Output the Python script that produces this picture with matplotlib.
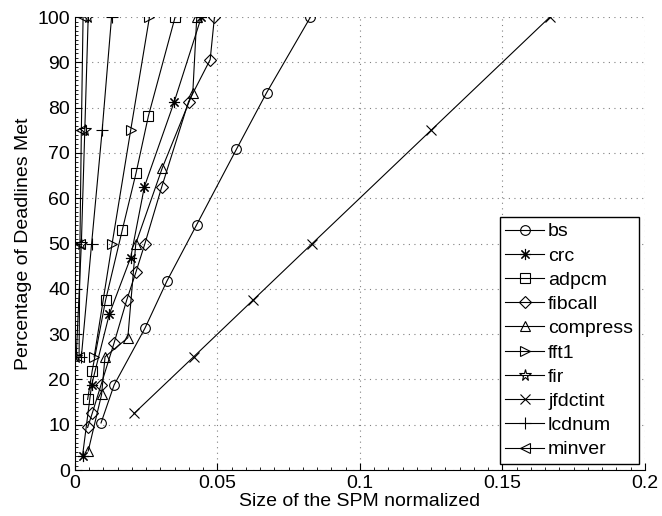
"""Percentage of deadlines met vs. normalized SPM size, one line per benchmark."""

import matplotlib
matplotlib.use("Agg")
import matplotlib.pyplot as plt
from matplotlib.ticker import AutoMinorLocator, FixedLocator

plt.rcParams["font.family"] = ["Liberation Sans", "DejaVu Sans"]

# values
bs_x = [0.0092, 0.0138, 0.0246, 0.0323, 0.0428, 0.0567, 0.0673, 0.0827]
bs_y = [10.4, 18.8, 31.3, 41.7, 54.2, 70.8, 83.3, 100]

crc_x = [0.0027, 0.0059, 0.0121, 0.0196, 0.0244, 0.0349, 0.0444]
crc_y = [3.1, 18.8, 34.4, 46.9, 62.5, 81.3, 100]

adpcm_x = [0.0045, 0.0061, 0.0108, 0.0167, 0.0215, 0.0258, 0.0352]
adpcm_y = [15.6, 21.9, 37.5, 53.1, 65.6, 78.1, 100]

fibcall_x = [0.0045, 0.0061, 0.0092, 0.0138, 0.0182, 0.0215, 0.0246,
             0.0305, 0.0399, 0.0475, 0.0490]
fibcall_y = [9.4, 12.5, 18.8, 28.1, 37.5, 43.8, 50, 62.5, 81.3, 90.6, 100]

compress_x = [0.0047, 0.0094, 0.0106, 0.0186, 0.0214, 0.0307, 0.0414, 0.0428]
compress_y = [4.2, 16.7, 25, 29.2, 50, 66.7, 83.3, 100]

fft1_x = [0.0068, 0.0131, 0.0196, 0.0262]
fft1_y = [25, 50, 75, 100]

fir_x = [0.0005, 0.0023, 0.0035, 0.0047]
fir_y = [25, 50, 75, 100]

jfdctint_x = [0.0208, 0.0417, 0.0625, 0.0833, 0.125, 0.1667]
jfdctint_y = [12.5, 25, 37.5, 50, 75, 100]

lcdnum_x = [0.0023, 0.0059, 0.0096, 0.0129]
lcdnum_y = [25, 50, 75, 100]

minver_x = [0.0015, 0.0018, 0.0023, 0.0029]
minver_y = [25, 50, 75, 100]

x_ticks = [0, 0.05, 0.1, 0.15, 0.2]
x_tick_labels = ["0", "0.05", "0.1", "0.15", "0.2"]
y_ticks = list(range(0, 101, 10))

series = [
    ("bs", bs_x, bs_y, "o", 7),
    ("crc", crc_x, crc_y, (8, 2, 0), 8),
    ("adpcm", adpcm_x, adpcm_y, "s", 6.5),
    ("fibcall", fibcall_x, fibcall_y, "D", 6),
    ("compress", compress_x, compress_y, "^", 7.5),
    ("fft1", fft1_x, fft1_y, ">", 7.5),
    ("fir", fir_x, fir_y, "*", 8.5),
    ("jfdctint", jfdctint_x, jfdctint_y, "x", 6.5),
    ("lcdnum", lcdnum_x, lcdnum_y, "+", 8),
    ("minver", minver_x, minver_y, "<", 7.5),
]

fig = plt.figure(figsize=(6.62, 5.16), dpi=100)
ax = fig.add_axes([0.113, 0.089, 0.861, 0.878])

for name, xs, ys, mk, ms in series:
    ax.plot(xs, ys, color="black", linewidth=0.8, marker=mk, markersize=ms,
            markerfacecolor="none", markeredgecolor="black",
            markeredgewidth=0.8, label=name)

ax.set_xlim(0, 0.2)
ax.set_ylim(0, 100)
ax.xaxis.set_major_locator(FixedLocator(x_ticks))
ax.set_xticklabels(x_tick_labels)
ax.set_yticks(y_ticks)
ax.xaxis.set_minor_locator(AutoMinorLocator(10))
ax.yaxis.set_minor_locator(AutoMinorLocator(10))

ax.grid(True, which="major", linestyle=(0, (1, 4)), color="0.5", linewidth=0.8)
ax.spines["top"].set_visible(False)
ax.spines["right"].set_visible(False)
ax.tick_params(which="major", direction="in", length=5, width=0.8,
               labelsize=14, top=False, right=False)
ax.tick_params(which="minor", direction="in", length=2.5, width=0.6,
               top=False, right=False)

ax.set_xlabel("Size of the SPM normalized", fontsize=14, labelpad=1)
ax.set_ylabel("Percentage of Deadlines Met", fontsize=14, labelpad=4)

leg = ax.legend(loc="lower right", fontsize=14, frameon=True, fancybox=False,
                edgecolor="black", framealpha=1, labelspacing=0.34,
                handlelength=2.0, handletextpad=0.2, borderpad=0.3,
                borderaxespad=0.3)
leg.get_frame().set_linewidth(1.0)

fig.savefig("out.png", dpi=100)
